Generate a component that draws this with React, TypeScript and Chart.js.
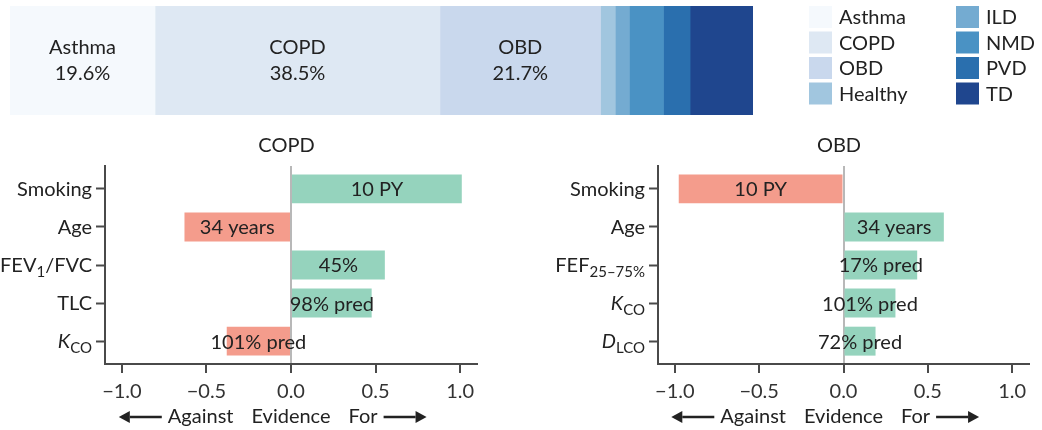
import React, { useEffect, useRef } from "react";
import { Chart, registerables } from "chart.js";

Chart.register(...registerables);

// ---------- data ----------
const groups = ["Asthma", "COPD", "OBD", "Healthy", "ILD", "NMD", "PVD", "TD"];
const groupShares = [19.6, 38.5, 21.7, 2.0, 1.9, 4.6, 3.6, 8.5];
const labelledGroups = ["Asthma", "COPD", "OBD"];

const copdTitle = "COPD";
const copdFeatures = ["Smoking", "Age", "FEV_{1}/FVC", "TLC", "*K*_{CO}"];
const copdEvidence = [1.01, -0.63, 0.555, 0.477, -0.38];
const copdValueLabels = ["10 PY", "34 years", "45%", "98% pred", "101% pred"];

const obdTitle = "OBD";
const obdFeatures = ["Smoking", "Age", "FEF_{25–75%}", "*K*_{CO}", "*D*_{LCO}"];
const obdEvidence = [-0.977, 0.595, 0.437, 0.308, 0.19];
const obdValueLabels = ["10 PY", "34 years", "17% pred", "101% pred", "72% pred"];

const xTicks = [-1, -0.5, 0, 0.5, 1];
const axisWords = ["Against", "Evidence", "For"];

// ---------- styles ----------
const FONT = "Lato, 'Open Sans', sans-serif";
const TEXT = "#222222";
const AXIS = "#4a4a4a";
const ZERO = "#b8b8b8";
const GREEN = "#95d3bd";
const RED = "#f49c8c";
const groupColors = [
  "#f5f9fd",
  "#dee8f3",
  "#c9d8ed",
  "#a1c6df",
  "#74abd1",
  "#4a92c4",
  "#2a6fae",
  "#1f468e",
];

// ---------- helpers ----------
type Seg = { text: string; italic: boolean; sub: boolean };
function parseRich(s: string): Seg[] {
  const segs: Seg[] = [];
  const re = /\*([^*]+)\*|_\{([^}]+)\}|([^*_]+)/g;
  let m: RegExpExecArray | null;
  while ((m = re.exec(s))) {
    if (m[1] !== undefined) segs.push({ text: m[1], italic: true, sub: false });
    else if (m[2] !== undefined) segs.push({ text: m[2], italic: false, sub: true });
    else segs.push({ text: m[3], italic: false, sub: false });
  }
  return segs;
}

function segFont(seg: Seg) {
  const size = seg.sub ? 15 : 20;
  return `${seg.italic ? "italic " : ""}${size}px ${FONT}`;
}

function richYLabels(features: string[]) {
  return {
    id: "richY",
    afterDraw(chart: any) {
      const { ctx } = chart;
      const ys = chart.scales.y;
      const right = ys.right - 9 - 4;
      ctx.save();
      ctx.fillStyle = TEXT;
      ctx.textAlign = "left";
      ctx.textBaseline = "alphabetic";
      features.forEach((f, i) => {
        const segs = parseRich(f);
        const widths = segs.map((s) => {
          ctx.font = segFont(s);
          return ctx.measureText(s.text).width;
        });
        const total = widths.reduce((a, b) => a + b, 0);
        let x = right - total;
        const base = ys.getPixelForValue(i) + 7;
        segs.forEach((s, k) => {
          ctx.font = segFont(s);
          ctx.fillText(s.text, x, base + (s.sub ? 5 : 0));
          x += widths[k];
        });
      });
      ctx.restore();
    },
  };
}

function barValueLabels(labels: string[]) {
  return {
    id: "barValues",
    afterDatasetsDraw(chart: any) {
      const { ctx } = chart;
      const meta = chart.getDatasetMeta(0);
      ctx.save();
      ctx.fillStyle = TEXT;
      ctx.font = `20px ${FONT}`;
      ctx.textAlign = "center";
      ctx.textBaseline = "middle";
      meta.data.forEach((el: any, i: number) => {
        ctx.fillText(labels[i], (el.x + el.base) / 2, el.y + 1);
      });
      ctx.restore();
    },
  };
}

function drawArrow(ctx: CanvasRenderingContext2D, x0: number, x1: number, y: number) {
  const dir = Math.sign(x1 - x0);
  const head = 11;
  ctx.beginPath();
  ctx.moveTo(x0, y);
  ctx.lineTo(x1 - dir * head, y);
  ctx.stroke();
  ctx.beginPath();
  ctx.moveTo(x1, y);
  ctx.lineTo(x1 - dir * head, y - 6);
  ctx.lineTo(x1 - dir * head, y + 6);
  ctx.closePath();
  ctx.fill();
}

const evidenceAxisTitle = {
  id: "evidenceTitle",
  afterDraw(chart: any) {
    const { ctx } = chart;
    const zero = chart.scales.x.getPixelForValue(0);
    const y = chart.chartArea.bottom + 53;
    ctx.save();
    ctx.font = `20px ${FONT}`;
    ctx.fillStyle = TEXT;
    ctx.strokeStyle = TEXT;
    ctx.lineWidth = 2.5;
    ctx.textBaseline = "middle";
    const [wA, wE, wF] = axisWords.map((w) => ctx.measureText(w).width);
    const gap = 18;
    const eLeft = zero - wE / 2;
    const aLeft = eLeft - gap - wA;
    const fLeft = eLeft + wE + gap;
    ctx.textAlign = "left";
    ctx.fillText(axisWords[0], aLeft, y);
    ctx.fillText(axisWords[1], eLeft, y);
    ctx.fillText(axisWords[2], fLeft, y);
    drawArrow(ctx, aLeft - 6, aLeft - 49, y);
    drawArrow(ctx, fLeft + wF + 6, fLeft + wF + 49, y);
    ctx.restore();
  },
};

function evidenceConfig(
  title: string,
  features: string[],
  values: number[],
  valueLabels: string[],
  padLeft: number,
  padRight: number
): any {
  return {
    type: "bar",
    data: {
      datasets: [
        {
          data: values.map((v, i) => ({ x: v, y: i })),
          backgroundColor: values.map((v) => (v >= 0 ? GREEN : RED)),
          borderWidth: 0,
          barPercentage: 0.76,
          categoryPercentage: 1,
        },
      ],
    },
    options: {
      indexAxis: "y",
      animation: false,
      responsive: true,
      maintainAspectRatio: false,
      layout: { padding: { left: padLeft, right: padRight, top: 0, bottom: 19 } },
      plugins: {
        legend: { display: false },
        tooltip: { enabled: false },
        title: {
          display: true,
          text: title,
          color: TEXT,
          font: { family: FONT, size: 20, weight: "normal" },
          padding: { top: 9, bottom: 8 },
        },
      },
      scales: {
        x: {
          type: "linear",
          min: -1.1,
          max: 1.1,
          afterBuildTicks: (s: any) => {
            s.ticks = xTicks.map((v) => ({ value: v }));
          },
          ticks: {
            autoSkip: false,
            maxRotation: 0,
            padding: 7,
            color: "#333333",
            font: { family: FONT, size: 20 },
            callback: (v: any) => (v < 0 ? "\u2212" : "") + Math.abs(Number(v)).toFixed(1),
          },
          grid: {
            offset: false,
            drawOnChartArea: true,
            drawTicks: true,
            tickLength: 9,
            tickWidth: 2,
            tickColor: AXIS,
            color: (c: any) => (c.tick && c.tick.value === 0 ? ZERO : "rgba(0,0,0,0)"),
            lineWidth: 2,
          },
          border: { display: true, color: AXIS, width: 2 },
        },
        y: {
          type: "linear",
          reverse: true,
          offset: false,
          min: -0.6,
          max: 4.6,
          afterBuildTicks: (s: any) => {
            s.ticks = features.map((_, i) => ({ value: i }));
          },
          ticks: { display: false },
          grid: {
            offset: false,
            drawOnChartArea: false,
            drawTicks: true,
            tickLength: 9,
            tickWidth: 2,
            tickColor: AXIS,
          },
          border: { display: true, color: AXIS, width: 2 },
        },
      },
    },
    plugins: [richYLabels(features), barValueLabels(valueLabels), evidenceAxisTitle],
  };
}

const topLabels = {
  id: "topLabels",
  afterDatasetsDraw(chart: any) {
    const { ctx } = chart;
    ctx.save();
    ctx.fillStyle = TEXT;
    ctx.font = `20px ${FONT}`;
    ctx.textAlign = "center";
    ctx.textBaseline = "middle";
    chart.data.datasets.forEach((ds: any, i: number) => {
      if (!labelledGroups.includes(ds.label)) return;
      const el = chart.getDatasetMeta(i).data[0];
      const cx = (el.x + el.base) / 2;
      ctx.fillText(ds.label, cx, el.y - 13);
      ctx.fillText(`${ds.data[0]}%`, cx, el.y + 13);
    });
    ctx.restore();
  },
};

const gridLegend = {
  id: "gridLegend",
  afterDraw(chart: any) {
    const { ctx } = chart;
    const colX = [809, 956];
    const rowY = [6, 31.5, 57, 82.5];
    ctx.save();
    ctx.font = `20px ${FONT}`;
    ctx.textAlign = "left";
    ctx.textBaseline = "middle";
    chart.data.datasets.forEach((ds: any, i: number) => {
      const x = colX[Math.floor(i / 4)];
      const y = rowY[i % 4];
      ctx.fillStyle = ds.backgroundColor;
      ctx.fillRect(x, y, 23, 22);
      ctx.fillStyle = TEXT;
      ctx.fillText(ds.label, x + 30, y + 12);
    });
    ctx.restore();
  },
};

function topConfig(): any {
  const total = groupShares.reduce((a, b) => a + b, 0);
  return {
    type: "bar",
    data: {
      labels: ["all"],
      datasets: groups.map((g, i) => ({
        label: g,
        data: [groupShares[i]],
        backgroundColor: groupColors[i],
        borderWidth: 0,
        barPercentage: 1,
        categoryPercentage: 1,
      })),
    },
    options: {
      indexAxis: "y",
      animation: false,
      responsive: true,
      maintainAspectRatio: false,
      layout: { padding: { left: 10, right: 289, top: 6, bottom: 10 } },
      plugins: { legend: { display: false }, tooltip: { enabled: false } },
      scales: {
        x: { stacked: true, display: false, min: 0, max: total },
        y: { stacked: true, display: false },
      },
    },
    plugins: [topLabels, gridLegend],
  };
}

export default function App() {
  const topRef = useRef<HTMLCanvasElement>(null);
  const leftRef = useRef<HTMLCanvasElement>(null);
  const rightRef = useRef<HTMLCanvasElement>(null);

  useEffect(() => {
    const charts = [
      new Chart(topRef.current!, topConfig()),
      new Chart(
        leftRef.current!,
        evidenceConfig(copdTitle, copdFeatures, copdEvidence, copdValueLabels, 96, 43)
      ),
      new Chart(
        rightRef.current!,
        evidenceConfig(obdTitle, obdFeatures, obdEvidence, obdValueLabels, 129, 13)
      ),
    ];
    return () => charts.forEach((c) => c.destroy());
  }, []);

  return (
    <div
      style={{
        position: "absolute",
        left: 0,
        top: 0,
        width: 1042,
        height: 430,
        background: "#ffffff",
        overflow: "hidden",
      }}
    >
      <div style={{ position: "absolute", left: 0, top: 0, width: 1042, height: 125 }}>
        <canvas ref={topRef} />
      </div>
      <div style={{ position: "absolute", left: 0, top: 125, width: 520, height: 305 }}>
        <canvas ref={leftRef} />
      </div>
      <div style={{ position: "absolute", left: 520, top: 125, width: 522, height: 305 }}>
        <canvas ref={rightRef} />
      </div>
    </div>
  );
}
